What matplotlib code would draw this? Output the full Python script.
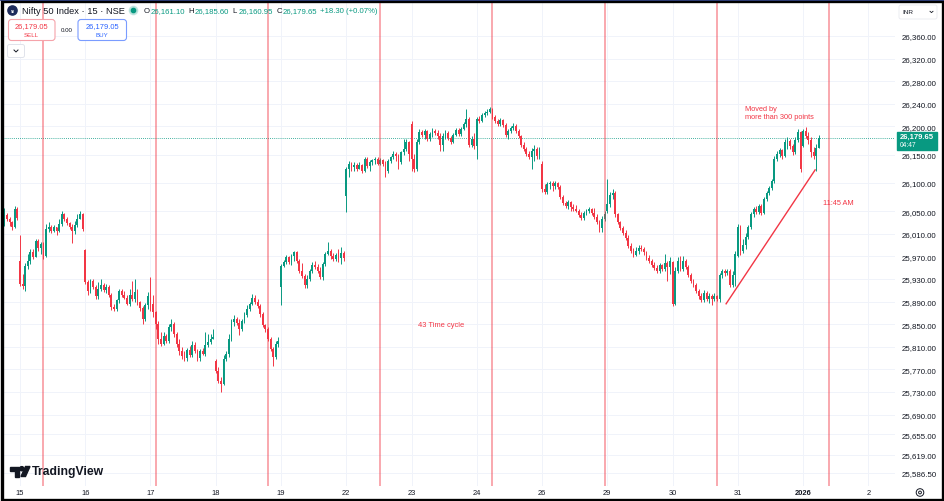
import matplotlib.pyplot as plt
import numpy as np
from matplotlib.patches import Rectangle, FancyBboxPatch, Circle, Polygon

plt.rcParams['font.family'] = ['Liberation Sans', 'DejaVu Sans']

UP = '#089981'
DOWN = '#F23645'
TXT = '#131722'

# Nifty 50 index, 15 min candles, 12 Dec 2025 .. 1 Jan 2026
session_open = [26025, 25962, 25981, 25907, 25785, 25916, 26077,
                26204, 26165, 26133, 26050, 25960, 25971, 26165]

close_12 = [26043, 26036, 26031, 26022, 26054, 26038]
high_12 = [26056, 26047, 26040, 26033, 26059, 26057]
low_12 = [26024, 26033, 26024, 26017, 26020, 26034]

close_15 = [25921, 25918, 25953, 25962, 25978, 25969, 25997, 25985, 25992, 25971, 26018, 26022, 26015,
            26022, 26015, 26027, 26045, 26036, 26029, 26022, 26015, 26025, 26036, 26045, 26018]
high_15 = [26008, 25939, 25958, 25974, 25983, 25983, 26001, 26001, 25995, 25995, 26027, 26031, 26025,
           26025, 26022, 26036, 26050, 26047, 26040, 26031, 26027, 26033, 26045, 26050, 26047]
low_15 = [25917, 25912, 25909, 25948, 25956, 25965, 25969, 25979, 25974, 25965, 25969, 26013, 26011,
          26013, 26008, 26013, 26024, 26033, 26025, 26018, 25994, 26010, 26022, 26036, 26015]

close_16 = [25925, 25909, 25926, 25916, 25900, 25912, 25919, 25910, 25916, 25902, 25880, 25877, 25893,
            25909, 25902, 25896, 25886, 25902, 25895, 25907, 25889, 25879, 25859, 25884, 25900]
high_16 = [25983, 25928, 25930, 25930, 25919, 25925, 25930, 25923, 25921, 25919, 25905, 25886, 25895,
           25912, 25912, 25909, 25902, 25912, 25926, 25930, 25912, 25891, 25882, 25887, 25907]
low_16 = [25921, 25902, 25905, 25912, 25895, 25895, 25909, 25907, 25905, 25898, 25875, 25873, 25873,
          25887, 25898, 25895, 25884, 25882, 25891, 25889, 25884, 25873, 25850, 25855, 25877]

close_17 = [25886, 25871, 25850, 25824, 25815, 25829, 25820, 25845, 25850, 25833, 25815, 25802, 25794,
            25790, 25804, 25795, 25813, 25802, 25790, 25802, 25797, 25813, 25818, 25824, 25827]
high_17 = [25933, 25902, 25873, 25855, 25836, 25836, 25833, 25850, 25859, 25854, 25836, 25824, 25810,
           25802, 25808, 25811, 25820, 25818, 25806, 25806, 25808, 25836, 25833, 25833, 25841]
low_17 = [25873, 25863, 25841, 25815, 25811, 25813, 25817, 25817, 25838, 25827, 25810, 25795, 25788,
          25784, 25784, 25792, 25792, 25799, 25784, 25784, 25795, 25793, 25810, 25815, 25826]

close_18 = [25767, 25749, 25744, 25788, 25797, 25824, 25854, 25859, 25852, 25841, 25856, 25866, 25877,
            25886, 25896, 25889, 25882, 25868, 25848, 25841, 25824, 25806, 25792, 25815, 25820]
high_18 = [25788, 25774, 25756, 25795, 25802, 25833, 25859, 25866, 25863, 25859, 25859, 25871, 25884,
           25889, 25903, 25902, 25895, 25886, 25871, 25850, 25845, 25827, 25810, 25820, 25827]
low_18 = [25764, 25746, 25730, 25742, 25785, 25792, 25820, 25847, 25848, 25831, 25838, 25852, 25863,
          25873, 25884, 25886, 25879, 25863, 25845, 25836, 25820, 25802, 25776, 25788, 25810]

close_19 = [25953, 25960, 25969, 25960, 25971, 25978, 25962, 25944, 25935, 25919, 25930, 25944, 25955,
            25951, 25944, 25933, 25956, 25974, 25979, 25971, 25965, 25972, 25967, 25976, 25967]
high_19 = [25956, 25964, 25972, 25971, 25974, 25979, 25979, 25965, 25958, 25939, 25937, 25948, 25960,
           25962, 25956, 25951, 25960, 25978, 25995, 25983, 25976, 25976, 25983, 25987, 25979]
low_19 = [25884, 25951, 25956, 25956, 25955, 25962, 25958, 25941, 25932, 25914, 25914, 25926, 25941,
          25948, 25941, 25930, 25928, 25953, 25972, 25965, 25962, 25962, 25960, 25956, 25962]

close_22 = [26125, 26133, 26128, 26132, 26125, 26132, 26121, 26142, 26130, 26137, 26140, 26142, 26133,
            26140, 26133, 26121, 26139, 26146, 26151, 26148, 26137, 26155, 26160, 26172, 26151]
high_22 = [26128, 26139, 26137, 26137, 26135, 26137, 26133, 26146, 26146, 26140, 26142, 26146, 26146,
           26144, 26142, 26139, 26142, 26148, 26156, 26155, 26151, 26156, 26178, 26178, 26174]
low_22 = [26048, 26110, 26121, 26121, 26121, 26125, 26118, 26119, 26126, 26121, 26132, 26133, 26132,
          26132, 26130, 26110, 26118, 26135, 26142, 26139, 26125, 26133, 26149, 26156, 26139]

close_23 = [26142, 26125, 26172, 26190, 26185, 26192, 26178, 26186, 26192, 26188, 26183, 26167, 26183,
            26188, 26179, 26172, 26185, 26194, 26186, 26195, 26204, 26213, 26167, 26178, 26165]
high_23 = [26210, 26151, 26178, 26195, 26194, 26195, 26194, 26190, 26197, 26195, 26194, 26188, 26188,
           26194, 26192, 26183, 26188, 26197, 26197, 26199, 26208, 26231, 26217, 26183, 26188]
low_23 = [26121, 26119, 26121, 26169, 26181, 26178, 26174, 26174, 26181, 26185, 26178, 26156, 26156,
          26178, 26176, 26169, 26171, 26183, 26183, 26183, 26194, 26199, 26164, 26164, 26160]

close_24 = [26213, 26210, 26220, 26224, 26225, 26231, 26217, 26210, 26204, 26211, 26202, 26185, 26192,
            26197, 26201, 26192, 26183, 26167, 26160, 26151, 26146, 26156, 26160, 26148, 26156]
high_24 = [26217, 26218, 26224, 26227, 26231, 26234, 26233, 26220, 26213, 26215, 26213, 26206, 26195,
           26201, 26206, 26204, 26195, 26185, 26172, 26163, 26156, 26162, 26167, 26163, 26163]
low_24 = [26142, 26206, 26208, 26217, 26220, 26224, 26213, 26206, 26201, 26201, 26199, 26181, 26178,
          26188, 26194, 26188, 26179, 26164, 26156, 26147, 26142, 26125, 26139, 26142, 26142]

close_26 = [26089, 26084, 26098, 26100, 26095, 26100, 26093, 26075, 26064, 26059, 26066, 26057, 26054,
            26050, 26043, 26038, 26047, 26050, 26054, 26047, 26040, 26031, 26020, 26036, 26045]
high_26 = [26139, 26098, 26102, 26103, 26103, 26103, 26102, 26096, 26079, 26068, 26070, 26068, 26063,
           26061, 26054, 26048, 26050, 26054, 26057, 26056, 26056, 26045, 26034, 26041, 26050]
low_26 = [26084, 26080, 26080, 26089, 26086, 26089, 26089, 26071, 26061, 26056, 26054, 26050, 26050,
          26048, 26040, 26034, 26034, 26043, 26047, 26043, 26036, 26027, 26013, 26013, 26032]

close_29 = [26063, 26079, 26082, 26045, 26031, 26020, 26011, 26002, 25988, 25979, 25972, 25979, 25985,
            25983, 25978, 25967, 25962, 25955, 25949, 25944, 25955, 25948, 25958, 25951, 25962]
high_29 = [26107, 26084, 26089, 26086, 26047, 26033, 26024, 26016, 26007, 25994, 25985, 25987, 25990,
           25990, 25987, 25979, 25972, 25965, 25960, 25955, 25958, 25956, 25974, 25962, 25969]
low_29 = [26047, 26057, 26071, 26040, 26027, 26017, 26008, 25999, 25985, 25976, 25969, 25971, 25974,
          25979, 25972, 25963, 25958, 25951, 25946, 25941, 25941, 25944, 25944, 25926, 25939]

close_30 = [25886, 25944, 25962, 25948, 25962, 25951, 25937, 25926, 25919, 25909, 25900, 25893, 25905,
            25895, 25900, 25895, 25900, 25895, 25937, 25944, 25941, 25944, 25919, 25937, 25974]
high_30 = [25962, 25951, 25969, 25971, 25971, 25965, 25955, 25941, 25930, 25923, 25912, 25905, 25910,
           25909, 25905, 25903, 25905, 25902, 25941, 25948, 25948, 25948, 25948, 25944, 25979]
low_30 = [25882, 25884, 25941, 25944, 25944, 25948, 25933, 25923, 25916, 25905, 25895, 25889, 25889,
          25891, 25887, 25884, 25891, 25891, 25889, 25932, 25935, 25937, 25916, 25916, 25918]

close_31 = [26022, 25979, 25990, 26004, 26022, 26045, 26054, 26048, 26059, 26047, 26071, 26082, 26091,
            26103, 26142, 26151, 26158, 26148, 26172, 26174, 26165, 26155, 26176, 26190, 26125]
high_31 = [26027, 26025, 26001, 26011, 26025, 26048, 26057, 26059, 26063, 26063, 26075, 26086, 26095,
           26107, 26148, 26156, 26162, 26160, 26178, 26181, 26178, 26169, 26181, 26195, 26192]
low_31 = [25969, 25972, 25976, 25983, 26001, 26018, 26040, 26045, 26045, 26043, 26045, 26068, 26079,
          26087, 26100, 26139, 26146, 26142, 26146, 26160, 26160, 26149, 26151, 26172, 26119]

close_j1 = [26192, 26183, 26176, 26155, 26148, 26161.10, 26179.65]
high_j1 = [26195, 26199, 26190, 26181, 26164, 26169, 26185.60]
low_j1 = [26164, 26179, 26169, 26146, 26142, 26121, 26160.95]

closes_by_day = [close_12, close_15, close_16, close_17, close_18, close_19, close_22,
                 close_23, close_24, close_26, close_29, close_30, close_31, close_j1]
highs_by_day = [high_12, high_15, high_16, high_17, high_18, high_19, high_22,
                high_23, high_24, high_26, high_29, high_30, high_31, high_j1]
lows_by_day = [low_12, low_15, low_16, low_17, low_18, low_19, low_22,
               low_23, low_24, low_26, low_29, low_30, low_31, low_j1]

day_labels = ['15', '16', '17', '18', '19', '22', '23', '24', '26', '29', '30', '31', '2026', '2']
bars_per_day = 25

price_ticks = [26360, 26320, 26280, 26240, 26200, 26150, 26100, 26050, 26010, 25970, 25930,
               25890, 25850, 25810, 25770, 25730, 25690, 25655, 25619, 25586.5]

cycle_start = 9
cycle_len = 43
n_cycles = 8

trend_start = (270.5, 25886)
trend_end = (304.6, 26123)

# build ohlc
o, h, l, c = [], [], [], []
for op, cs, hs, ls in zip(session_open, closes_by_day, highs_by_day, lows_by_day):
    prev = op
    for cc, hh, ll in zip(cs, hs, ls):
        o.append(prev)
        c.append(cc)
        h.append(max(hh, prev, cc))
        l.append(min(ll, prev, cc))
        prev = cc
o, h, l, c = map(np.array, (o, h, l, c))
x = np.arange(len(c)) - len(close_12)

fig = plt.figure(figsize=(9.44, 5.02), dpi=100)
fig.patch.set_facecolor('white')
ax = fig.add_axes([3 / 944, 15 / 502, 892 / 944, 484 / 502])
ax.set_xlim(-6.5, 335.2)
ax.set_ylim(25563.5, 26420.2)

up = c >= o
colors = np.where(up, UP, DOWN)
ax.vlines(x, l, h, colors=colors, linewidth=0.7, zorder=2)
ax.bar(x, np.maximum(np.abs(c - o), 1.3), bottom=np.minimum(o, c), width=0.7,
       color=colors, linewidth=0, zorder=3)

for k in range(n_cycles):
    ax.axvline(cycle_start + k * cycle_len, color=DOWN, alpha=0.55, lw=1.1, zorder=4)

ax.axhline(c[-1], color=UP, lw=0.6, ls=(0, (1, 1.5)), zorder=1)
ax.plot([trend_start[0], trend_end[0]], [trend_start[1], trend_end[1]], color=DOWN, lw=1, zorder=5)

ax.text(152.5, 25850, '43 Time cycle', color=DOWN, fontsize=5.4, ha='left', va='center')
ax.text(277.8, 26231, 'Moved by', color=DOWN, fontsize=5.3, ha='left', va='center')
ax.text(277.8, 26218, 'more than 300 points', color=DOWN, fontsize=5.3, ha='left', va='center')
ax.text(307.5, 26066, '11:45 AM', color=DOWN, fontsize=5.3, ha='left', va='center')

ax.set_xticks(np.arange(len(day_labels)) * bars_per_day)
ax.set_xticklabels(day_labels)
for t in ax.get_xticklabels():
    if t.get_text() == '2026':
        t.set_fontweight('bold')
ax.yaxis.tick_right()
ax.set_yticks(price_ticks)
ax.set_yticklabels([f'{v:,.2f}' for v in price_ticks])
ax.tick_params(axis='x', length=0, labelsize=5.4, colors=TXT, pad=2.2)
ax.tick_params(axis='y', length=0, labelsize=5.7, colors=TXT, pad=4.6)
ax.grid(True, color='#f0f3fa', lw=0.7)
ax.set_axisbelow(True)
for s in ax.spines.values():
    s.set_visible(False)

# chrome overlay in pixel coordinates
ov = fig.add_axes([0, 0, 1, 1])
ov.set_xlim(0, 944)
ov.set_ylim(502, 0)
ov.axis('off')
ov.patch.set_alpha(0)
ov.set_zorder(10)

ov.add_patch(Rectangle((1.5, 1.5), 941, 499, fill=False, ec='black', lw=2.4))
ov.plot([0, 944], [0.6, 0.6], color='#34468a', lw=1.2)

# header
ov.add_patch(Circle((12.5, 11.5), 4.6, color='#1e2c5c'))
ov.text(12.5, 11.7, '50', color='white', fontsize=2.6, ha='center', va='center', fontweight='bold')
ov.text(21.5, 11.5, 'Nifty 50 Index · 15 · NSE', color=TXT, fontsize=6.7, ha='left', va='center')
ov.add_patch(Circle((133.5, 11.5), 4.2, color=UP, alpha=0.18))
ov.add_patch(Circle((133.5, 11.5), 2.2, color=UP))
for lab, val, xx in [('O', '26,161.10', 144), ('H', '26,185.60', 188.5),
                     ('L', '26,160.95', 232.5), ('C', '26,179.65', 276.5)]:
    ov.text(xx, 11.5, lab, color=TXT, fontsize=5.6, ha='left', va='center')
    ov.text(xx + 6.4, 11.5, val, color=UP, fontsize=5.6, ha='left', va='center')
ov.text(319.5, 11.5, '+18.30 (+0.07%)', color=UP, fontsize=5.6, ha='left', va='center')

ov.add_patch(FancyBboxPatch((8.5, 20.5), 46.5, 21, boxstyle='round,pad=0,rounding_size=3',
                            fc='white', ec='#f5a3aa', lw=0.8))
ov.text(31.7, 26.5, '26,179.05', color=DOWN, fontsize=5.4, ha='center', va='center')
ov.text(31.7, 35.5, 'SELL', color=DOWN, fontsize=4.4, ha='center', va='center')
ov.text(66.3, 30.5, '0.00', color=TXT, fontsize=4.4, ha='center', va='center')
ov.add_patch(FancyBboxPatch((78, 20.5), 48.5, 21, boxstyle='round,pad=0,rounding_size=3',
                            fc='white', ec='#7a9cff', lw=0.8))
ov.text(102.2, 26.5, '26,179.05', color='#2962ff', fontsize=5.4, ha='center', va='center')
ov.text(102.2, 35.5, 'BUY', color='#2962ff', fontsize=4.4, ha='center', va='center')
ov.add_patch(FancyBboxPatch((7.5, 45.5), 17, 13, boxstyle='round,pad=0,rounding_size=2',
                            fc='white', ec='#e0e3eb', lw=0.7))
ov.plot([14, 16, 18], [51, 53, 51], color=TXT, lw=0.7)

# price scale extras
ov.add_patch(FancyBboxPatch((899, 6), 38, 14, boxstyle='round,pad=0,rounding_size=2',
                            fc='white', ec='#e8eaf0', lw=0.6))
ov.text(902.5, 12.8, 'INR', color=TXT, fontsize=4.6, ha='left', va='center')
ov.plot([930, 931.5, 933], [12.3, 13.6, 12.3], color=TXT, lw=0.6)
ov.add_patch(Rectangle((897, 132.5), 40, 18, color=UP))
ov.text(917, 137.5, '26,179.65', color='white', fontsize=5.5, ha='center', va='center', fontweight='bold')
ov.text(899.5, 146, '04:47', color='white', fontsize=4.8, ha='left', va='center')
ov.add_patch(Circle((920, 493.5), 3.8, fill=False, ec=TXT, lw=0.7))
ov.add_patch(Circle((920, 493.5), 1.4, fill=False, ec=TXT, lw=0.7))

# TradingView logo
ov.add_patch(Polygon([[10, 467.5], [19, 467.5], [19, 477.5], [15, 477.5], [15, 471.5], [10, 471.5]], color=TXT))
ov.add_patch(Circle((21.8, 469.7), 2.1, color=TXT))
ov.add_patch(Polygon([[25.5, 467.5], [30, 467.5], [25.5, 477.5], [21, 477.5]], color=TXT))
ov.text(32, 472.5, 'TradingView', color=TXT, fontsize=8.8, ha='left', va='center', fontweight='bold')

fig.savefig('out.png', dpi=100)
